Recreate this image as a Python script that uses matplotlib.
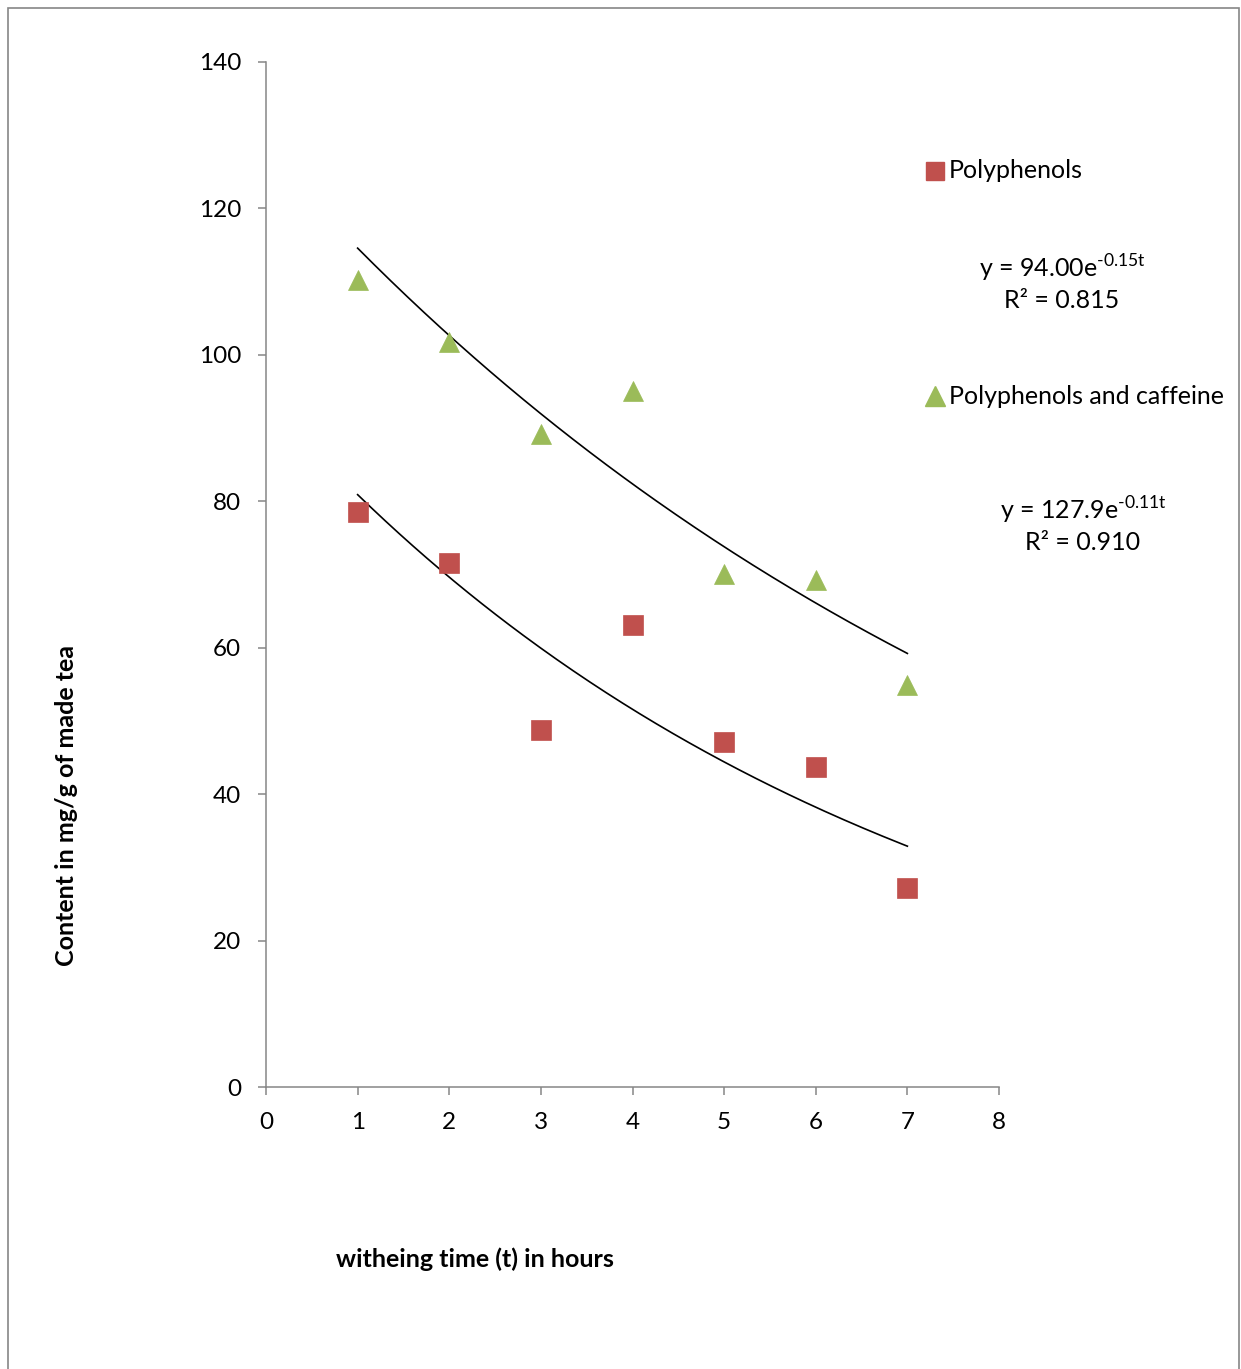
import numpy as np
import matplotlib
matplotlib.use("Agg")
import matplotlib.pyplot as plt
from matplotlib.patches import Rectangle

plt.rcParams['font.family'] = ['Lato', 'DejaVu Sans']
plt.rcParams['mathtext.fontset'] = 'custom'
plt.rcParams['mathtext.rm'] = 'Lato'

# data
hours = [1, 2, 3, 4, 5, 6, 7]
polyphenols = [78.6, 71.6, 48.8, 63.1, 47.1, 43.7, 27.2]
poly_caffeine = [110.2, 101.8, 89.2, 95.1, 70.1, 69.3, 54.9]

# exponential trendline coefficients (y = a * exp(b t))
fit_poly = (94.00, -0.15)
fit_caff = (127.9, -0.11)

x_ticks = [0, 1, 2, 3, 4, 5, 6, 7, 8]
y_ticks = [0, 20, 40, 60, 80, 100, 120, 140]

W, H = 1241, 1369
fig = plt.figure(figsize=(W / 100, H / 100), dpi=100)
ax = fig.add_axes([266 / W, 1 - 1087 / H, (999 - 266) / W, (1087 - 62) / H])

red = '#C0504D'
green = '#9BBB59'

t = np.linspace(1, 7, 200)
ax.plot(t, fit_poly[0] * np.exp(fit_poly[1] * t), color='black', lw=1.2)
ax.plot(t, fit_caff[0] * np.exp(fit_caff[1] * t), color='black', lw=1.2)

ax.plot(hours, polyphenols, 's', color=red, ms=14, mec=red, mew=0.5)
ax.plot(hours, poly_caffeine, '^', color=green, ms=15, mec=green, mew=0.5)

ax.set_xlim(0, 8)
ax.set_ylim(0, 140)
ax.set_xticks(x_ticks)
ax.set_yticks(y_ticks)
for side in ['top', 'right']:
    ax.spines[side].set_visible(False)
for side in ['left', 'bottom']:
    ax.spines[side].set_color('#868686')
    ax.spines[side].set_linewidth(1.1)
ax.tick_params(axis='both', direction='out', length=6, width=1.1,
               color='#868686', labelsize=17.5)
ax.tick_params(axis='y', pad=12)
ax.tick_params(axis='x', pad=12)

fs = 18

# labels
fig.text(475 / W, 1 - 1259 / H, 'witheing time (t) in hours', ha='center',
         va='center', fontsize=fs, fontweight='bold')
fig.text(67 / W, 1 - 805 / H, 'Content in mg/g of made tea', ha='center',
         va='center', rotation=90, fontsize=fs, fontweight='bold')

# legend-like entries
fig.lines.append(plt.Line2D([935 / W], [1 - 171 / H], marker='s', color=red,
                            ms=13, transform=fig.transFigure))
fig.text(949 / W, 1 - 171 / H, 'Polyphenols', ha='left', va='center', fontsize=fs)
fig.lines.append(plt.Line2D([935 / W], [1 - 396 / H], marker='^', color=green,
                            ms=14, transform=fig.transFigure))
fig.text(949 / W, 1 - 396 / H, 'Polyphenols and caffeine', ha='left',
         va='center', fontsize=fs)

fig.text(1062 / W, 1 - 268 / H, r'y = 94.00e$^{\text{-0.15t}}$',
         ha='center', va='center', fontsize=fs)
fig.text(1062 / W, 1 - 301 / H, 'R² = 0.815', ha='center', va='center', fontsize=fs)
fig.text(1083 / W, 1 - 510 / H, r'y = 127.9e$^{\text{-0.11t}}$',
         ha='center', va='center', fontsize=fs)
fig.text(1083 / W, 1 - 543 / H, 'R² = 0.910', ha='center', va='center', fontsize=fs)

# outer border of the chart area
fig.patches.append(Rectangle((8 / W, -0.05), (1239 - 8) / W, 1.05 - 8 / H,
                             transform=fig.transFigure, fill=False,
                             edgecolor='#868686', lw=1.2))

fig.savefig('out.png', dpi=100)
